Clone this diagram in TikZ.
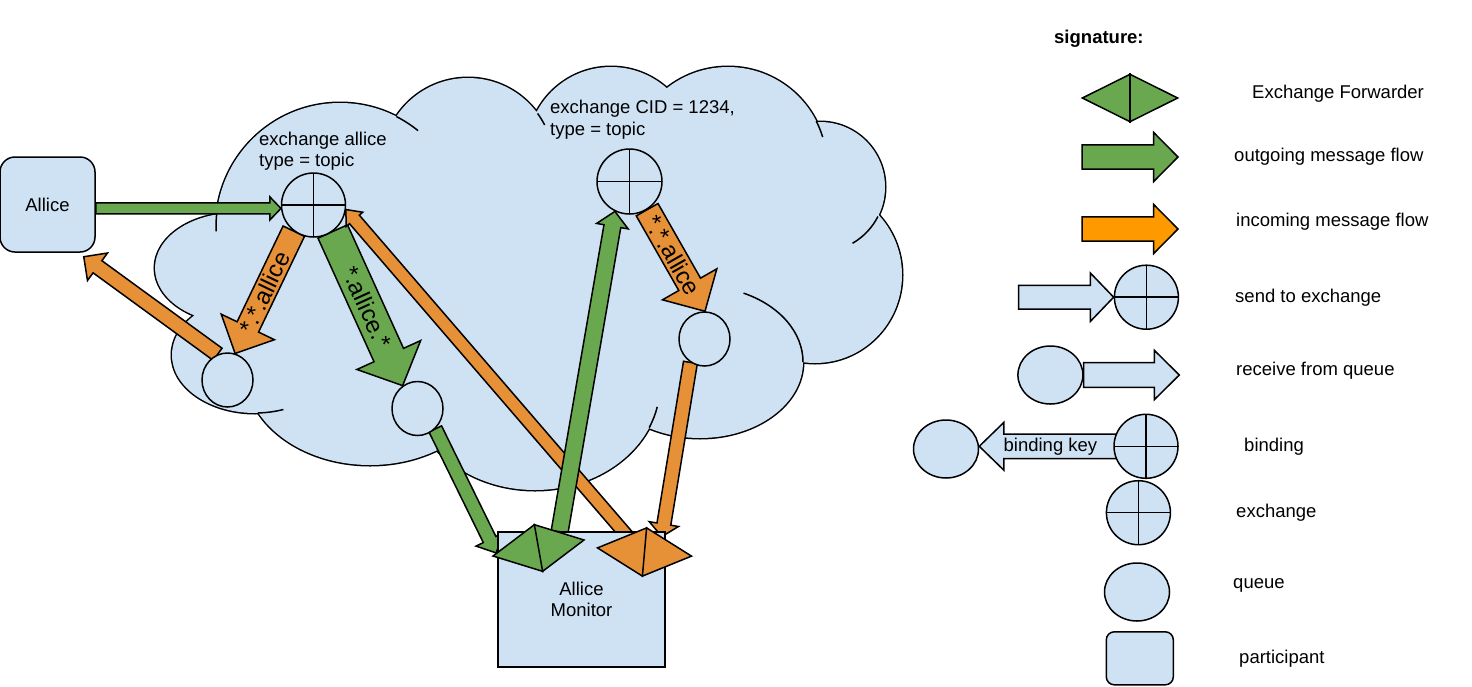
\documentclass[tikz,border=0pt]{standalone}
\usepackage{fontspec}
\setmainfont{Liberation Sans}
\usetikzlibrary{shapes.geometric, calc}

\definecolor{cloudblue}{HTML}{CFE2F3}
\definecolor{flowgreen}{HTML}{6AA84F}
\definecolor{floworange}{HTML}{E69138}
\definecolor{legendorange}{HTML}{FF9900}

\pgfdeclarelayer{back}
\pgfdeclarelayer{flows}
\pgfsetlayers{back,flows,main}

% block arrow: style, tail, tip, half shaft, half head, head length
\newcommand{\flowarrow}[6]{%
	\coordinate (fa-h) at ($(#3)!#6!(#2)$);
	\draw[#1] ($(#2)!#4!90:(#3)$) -- ($(fa-h)!#4!90:(#3)$) -- ($(fa-h)!#5!90:(#3)$) -- (#3)
		-- ($(fa-h)!#5!-90:(#3)$) -- ($(fa-h)!#4!-90:(#3)$) -- ($(#2)!#4!-90:(#3)$) -- cycle;
}

% puffs of the cloud
\newcommand{\cloudpuffs}{%
	(235,268) ellipse [x radius=80, y radius=55]
	(255,355) ellipse [x radius=83, y radius=58]
	(370,370) ellipse [x radius=125, y radius=95]
	(535,385) ellipse [x radius=125, y radius=105]
	(700,362) ellipse [x radius=103, y radius=76]
	(815,275) ellipse [x radius=87, y radius=88]
	(820,187) circle [radius=65]
	(728,166) circle [radius=99]
	(611,151) circle [radius=84]
	(468,164) circle [radius=86]
	(340,227) circle [radius=124]
	(540,280) ellipse [x radius=280, y radius=150]
}

% inner arc of a puff: cx, cy, rx, ry, from, to
\newcommand{\puffarc}[6]{%
	\draw[line width=1.5pt] ($(#1,#2)+({#3*cos(#5)},{#4*sin(#5)})$) arc[start angle=#5, end angle=#6, x radius=#3, y radius=#4];
}

\begin{document}
\begin{tikzpicture}[
		x=1pt, y=-1pt,
		font=\fontsize{18.5}{21.5}\selectfont,
		participant/.style = {rectangle, draw, fill=cloudblue, line width=1.5pt, rounded corners=15pt, minimum size=95pt},
		exchange/.style = {circle, draw, fill=cloudblue, line width=1.5pt, minimum size=64pt, inner sep=0pt,
			path picture={\draw[line width=1.5pt] (path picture bounding box.north) -- (path picture bounding box.south)
				(path picture bounding box.west) -- (path picture bounding box.east);}},
		queue/.style = {ellipse, draw, fill=cloudblue, line width=1.5pt, minimum width=51pt, minimum height=54pt, inner sep=0pt},
		forwarder/.style = {diamond, draw, line width=1.5pt, minimum width=93pt, minimum height=48pt, inner sep=0pt},
		outflow/.style = {draw, fill=flowgreen, line width=1.5pt},
		inflow/.style = {draw, fill=floworange, line width=1.5pt},
		legendflow/.style = {draw, fill=legendorange, line width=1.5pt},
		sendflow/.style = {draw, fill=cloudblue, line width=1.5pt},
		flowlabel/.style = {sloped, inner sep=0pt, font=\fontsize{24}{28}\selectfont},
		legendtext/.style = {anchor=west, inner sep=0pt, text height=13.5pt, text depth=3.9pt}
		]
		\useasboundingbox (0,0) rectangle (1472,686);
		
		% Cloud
		\begin{pgfonlayer}{back}
			\draw[line width=3pt] \cloudpuffs;
			\fill[cloudblue] \cloudpuffs;
			\puffarc{340}{227}{124}{124}{187}{178}
			\puffarc{340}{227}{124}{124}{-63}{-51}
			\puffarc{468}{164}{86}{86}{-36}{-27}
			\puffarc{728}{166}{99}{99}{-27}{-17}
			\puffarc{820}{187}{65}{65}{27}{60}
			\puffarc{700}{362}{103}{76}{-65}{0}
			\puffarc{535}{385}{125}{105}{24}{12}
			\puffarc{255}{355}{83}{58}{88}{70}
		\end{pgfonlayer}
		
		% Participants
		\node[participant] (Allice) at (47.5,204.5) {Allice};
		\node[participant, rounded corners=0pt, minimum width=167pt, minimum height=135pt, align=center] (AlliceMonitor) at (581.5,599.5) {Allice\\Monitor};
		
		% Exchanges and queues
		\node[exchange] (ExchangeAllice) at (313.5,205) {};
		\node[exchange, minimum size=65pt] (ExchangeCid) at (629.5,181.5) {};
		\node[queue] (QueueLeft) at (227.5,380) {};
		\node[queue] (QueueMid) at (417.5,408.5) {};
		\node[queue] (QueueRight) at (704.5,339) {};
		\node[anchor=north west, align=left, inner sep=0pt] (ExchangeAlliceText) at (259,131.5) {exchange allice\\type = topic};
		\node[anchor=north west, align=left, inner sep=0pt] (ExchangeCidText) at (550,100) {exchange CID = 1234,\\type = topic};
		
		% Forwarders
		\node[forwarder, fill=flowgreen, rotate=10] (ForwarderOut) at (538.5,548) {};
		\node[forwarder, fill=floworange, minimum width=95pt, minimum height=49pt, rotate=-5] (ForwarderIn) at (644.5,552) {};
		\draw[line width=1.5pt] (ForwarderOut.north) -- (ForwarderOut.south);
		\draw[line width=1.5pt] (ForwarderIn.north) -- (ForwarderIn.south);
		
		% Legend
		\node[anchor=west, inner sep=0pt, font=\fontsize{18.5}{21.5}\selectfont\bfseries] (Signature) at (1054,39) {signature:};
		\node[forwarder, fill=flowgreen, minimum width=96pt] (LegendForwarder) at (1130,98) {};
		\draw[line width=1.5pt] (LegendForwarder.north) -- (LegendForwarder.south);
		\node[exchange] (LegendSend) at (1146.4,297.2) {};
		\node[queue, minimum width=65pt, minimum height=58pt] (LegendReceive) at (1050.4,375) {};
		\node[queue, minimum width=65pt, minimum height=58pt] (LegendBindQueue) at (946,449) {};
		\node[exchange] (LegendBindExchange) at (1146,446.3) {};
		\node[exchange] (LegendExchange) at (1138.4,512.7) {};
		\node[queue, minimum width=65pt, minimum height=58pt] (LegendQueue) at (1137,592) {};
		\node[participant, rounded corners=8pt, minimum width=67pt, minimum height=53pt] (LegendParticipant) at (1139.8,658.3) {};
		
		\node[legendtext] (ForwarderText) at (1252,94) {Exchange Forwarder};
		\node[legendtext] (OutgoingText) at (1234,157) {outgoing message flow};
		\node[legendtext] (IncomingText) at (1236,222) {incoming message flow};
		\node[legendtext] (SendText) at (1235,298) {send to exchange};
		\node[legendtext] (ReceiveText) at (1236,371) {receive from queue};
		\node[legendtext] (BindingText) at (1244,447) {binding};
		\node[legendtext] (ExchangeText) at (1236,513) {exchange};
		\node[legendtext] (QueueText) at (1233,584) {queue};
		\node[legendtext] (ParticipantText) at (1239,659) {participant};
		
		% Arrows
		\coordinate (AlliceOut) at (ExchangeAllice.186 -| Allice.east);
		\coordinate (AlliceBack) at ($(Allice.south east)+(-12,4)$);
		\coordinate (ForwarderInTail) at ($(ForwarderIn.west)!0.6!(ForwarderIn.north)$);
		\coordinate (ForwarderInTop) at ($(ForwarderIn.north)!0.33!(ForwarderIn.east)$);
		\coordinate (ForwarderOutTail) at ($(ForwarderOut.north)!0.5!(ForwarderOut.east)$);
		\coordinate (ForwarderOutLeft) at ($(ForwarderOut.west)!0.1!(ForwarderOut.north)$);
		\coordinate (OutTail) at (1082,157);
		\coordinate (OutTip) at (1178,157);
		\coordinate (InTail) at (1082,229);
		\coordinate (InTip) at (1178,229);
		\coordinate (SendTail) at (1018.6,297.2);
		\coordinate (ReceiveTip) at (1179.3,375);
		\coordinate (BindTip) at (LegendBindExchange.west -| LegendBindQueue.east);
		
		\begin{pgfonlayer}{flows}
			\flowarrow{outflow}{AlliceOut}{ExchangeAllice.186}{5.5pt}{11.5pt}{11pt}
			\flowarrow{inflow}{QueueLeft.111}{AlliceBack}{7.5pt}{17pt}{17pt}
			\flowarrow{inflow}{ExchangeAllice.-127.5}{QueueLeft.74}{11.9pt}{29.5pt}{29.4pt}
			\flowarrow{outflow}{ExchangeAllice.-54}{QueueMid.123}{16.2pt}{35pt}{33.6pt}
			\flowarrow{inflow}{ForwarderInTail}{ExchangeAllice.-8}{6.5pt}{11pt}{13pt}
			\flowarrow{outflow}{ForwarderOutTail}{ExchangeCid.-116}{8.5pt}{16pt}{15pt}
			\flowarrow{inflow}{ExchangeCid.-58.5}{QueueRight.89}{12.5pt}{31.3pt}{31pt}
			\flowarrow{inflow}{QueueRight.-121}{ForwarderInTop}{7pt}{14.8pt}{12.6pt}
			\flowarrow{outflow}{QueueMid.-49.5}{ForwarderOutLeft}{7pt}{15pt}{15pt}
			\flowarrow{outflow}{OutTail}{OutTip}{12.2pt}{24.5pt}{24.3pt}
			\flowarrow{legendflow}{InTail}{InTip}{12.2pt}{24.5pt}{24.3pt}
			\flowarrow{sendflow}{SendTail}{LegendSend.west}{11.8pt}{24.2pt}{23.3pt}
			\flowarrow{sendflow}{LegendReceive.east}{ReceiveTip}{12.3pt}{24.7pt}{25pt}
			\flowarrow{sendflow}{LegendBindExchange.center}{BindTip}{12.2pt}{24pt}{24.7pt}
		\end{pgfonlayer}
		
		% Arrow labels
		\path (ExchangeAllice.-127.5) -- (QueueLeft.74) node[flowlabel, pos=0.5] {*.*.allice};
		\path (ExchangeAllice.-54) -- (QueueMid.123) node[flowlabel, pos=0.49] {*.allice.*};
		\path (ExchangeCid.-58.5) -- (QueueRight.89) node[flowlabel, pos=0.45] {*.*.allice};
		\path (LegendBindExchange.center) -- (BindTip) node[pos=0.573, inner sep=0pt] {binding key};
		
	\end{tikzpicture}
\end{document}
